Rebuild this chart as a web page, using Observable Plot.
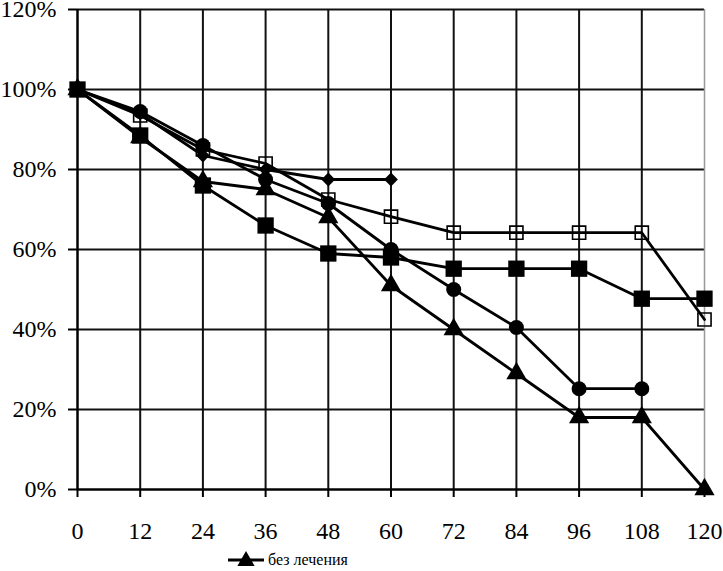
<!DOCTYPE html>
<html>
<head>
<meta charset="utf-8">
<script src="https://cdn.jsdelivr.net/npm/d3@7"></script>
<script src="https://cdn.jsdelivr.net/npm/@observablehq/plot@0.6"></script>
<style>
  body { margin: 0; background: #fff; }
  #chart { width: 723px; height: 571px; overflow: hidden; position: relative; }
  #chart svg text { font-family: 'Liberation Serif', 'DejaVu Serif', serif; }
  #legend { position: absolute; left: 226px; top: 549px; font-family: 'Liberation Serif', 'DejaVu Serif', serif; font-size: 16px; display: flex; align-items: center; }
  #legend span { margin-left: 2px; }
</style>
</head>
<body>
<div id="chart"></div>
<script>
const months = [0, 12, 24, 36, 48, 60, 72, 84, 96, 108, 120];
const yTicks = [0, 20, 40, 60, 80, 100, 120];

// series values (% survival), null = no point
const diamondVals    = [100, 94, 83.5, 80, 77.5, 77.5, null, null, null, null, null];
const openSquareVals = [100, 93.5, 85, 81.5, 72.5, 68.2, 64.2, 64.2, 64.2, 64.2, 42.5];
const circleVals     = [100, 94.5, 86, 77.5, 71.5, 60, 50, 40.5, 25.2, 25.2, null];
const squareVals     = [100, 88.5, 76, 66, 59, 58, 55.2, 55.2, 55.2, 47.7, 47.7];
const triangleVals   = [100, 88, 77, 75, 68, 51, 40, 29, 18, 18, 0];

const legendLabel = "без лечения";

function rows(vals, name) {
  return months.map((m, i) => ({month: m, value: vals[i], series: name})).filter(d => d.value != null);
}
const tri = rows(triangleVals, "tri");
const cir = rows(circleVals, "cir");
const dia = rows(diamondVals, "dia");
const sq  = rows(squareVals, "sq");
const osq = rows(openSquareVals, "osq");

const font = "'Liberation Serif', 'DejaVu Serif', serif";
const lw = 2.8;

const plot = Plot.plot({
  width: 723,
  height: 550,
  marginTop: 9,
  marginLeft: 77,
  marginRight: 19,
  marginBottom: 61,
  style: {fontFamily: font, fontSize: "24px", background: "#fff", color: "#000"},
  x: {domain: [0, 120], ticks: months},
  y: {domain: [0, 120], ticks: yTicks},
  marks: [
    Plot.gridY(yTicks, {stroke: "#111", strokeOpacity: 1, strokeWidth: 2}),
    Plot.gridX(months.slice(0, -1), {stroke: "#111", strokeOpacity: 1, strokeWidth: 2}),
    Plot.gridX([120], {stroke: "#999", strokeOpacity: 1, strokeWidth: 1.5}),
    Plot.axisY({ticks: yTicks, tickFormat: d => d + "%", tickSize: 9, tickPadding: 12, strokeWidth: 2, label: null, fontSize: 24, fontFamily: font, stroke: "#000"}),
    Plot.axisX({ticks: months, tickFormat: d => String(d), tickSize: 8, tickPadding: 24, strokeWidth: 2, label: null, fontSize: 24, fontFamily: font, stroke: "#000"}),
    Plot.ruleX([0], {stroke: "#000", strokeWidth: 2}),
    Plot.ruleY([0], {stroke: "#000", strokeWidth: 2}),
    Plot.line(tri, {x: "month", y: "value", stroke: "#000", strokeWidth: lw}),
    Plot.line(cir, {x: "month", y: "value", stroke: "#000", strokeWidth: lw}),
    Plot.line(dia, {x: "month", y: "value", stroke: "#000", strokeWidth: lw}),
    Plot.line(sq,  {x: "month", y: "value", stroke: "#000", strokeWidth: lw}),
    Plot.line(osq, {x: "month", y: "value", stroke: "#000", strokeWidth: lw}),
    Plot.dot(osq, {x: "month", y: "value", symbol: "square", r: 7.4, fill: "none", stroke: "#000", strokeWidth: 1.6}),
    Plot.dot(tri, {x: "month", y: "value", symbol: "triangle", r: 7.5, fill: "#000", stroke: "none"}),
    Plot.dot(cir, {x: "month", y: "value", symbol: "circle", r: 7.5, fill: "#000", stroke: "none"}),
    Plot.dot(dia, {x: "month", y: "value", symbol: "diamond2", r: 6.2, fill: "#000", stroke: "none"}),
    Plot.dot(sq,  {x: "month", y: "value", symbol: "square", r: 9.2, fill: "#000", stroke: "none"})
  ]
});
const chart = document.getElementById("chart");
chart.appendChild(plot);

const legend = document.createElement("div");
legend.id = "legend";
legend.innerHTML = `<svg width="40" height="22"><line x1="2" x2="38" y1="11" y2="11" stroke="#000" stroke-width="2.8"/><path d="${d3.symbol(d3.symbolTriangle, 130)()}" transform="translate(20,12)" fill="#000"/></svg><span>${legendLabel}</span>`;
chart.appendChild(legend);
</script>
</body>
</html>
